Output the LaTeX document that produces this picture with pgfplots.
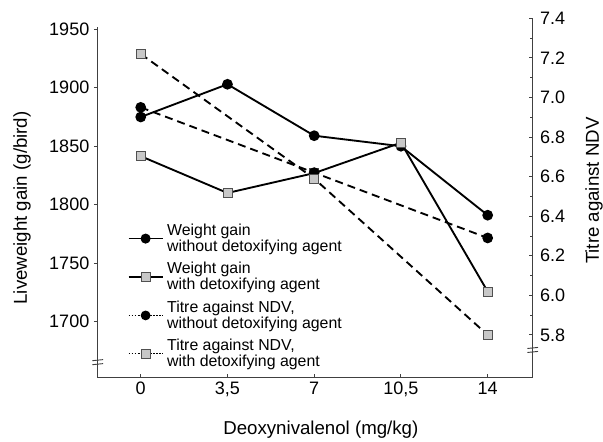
\documentclass[border=0pt]{standalone}
\usepackage{fontspec}
\setmainfont{Liberation Sans}
\usepackage{pgfplots}
\pgfplotsset{compat=1.18}
\definecolor{axgray}{HTML}{404040}
\definecolor{sqfill}{HTML}{C8C8C8}
\definecolor{sqedge}{HTML}{505050}
\begin{document}
\begin{tikzpicture}
\useasboundingbox (-73.3pt,-47.5pt) rectangle (379pt,283.3pt);
\pgfplotsset{
  common/.style={scale only axis, width=326.25pt, height=269.8pt, xmin=-1.735, xmax=15.816, clip=false,
    axis line style={draw=axgray, line width=0.7pt, -},
    tick style={draw=axgray, line width=0.7pt},
    major tick length=2.8pt, minor tick length=2.2pt,
    ticklabel style={font=\fontsize{13.5}{16}\selectfont},
    label style={font=\fontsize{14}{16}\selectfont},
    /pgf/number format/assume math mode=true,
    /pgf/number format/1000 sep={}},
  wline/.style={black, line width=1.4pt, solid},
  tline/.style={black, line width=1.4pt, dash pattern=on 6pt off 3.75pt},
  circ/.style={mark=*, mark size=3.3pt, mark options={solid, fill=black, draw=black}},
  sq/.style={mark=square*, mark size=3.4pt, mark options={solid, fill=sqfill, draw=sqedge, line width=0.6pt}},
}
\begin{axis}[common, ymin=1652, ymax=1959.7,
  axis y line*=left, axis x line*=bottom,
  y axis line style={draw=none},
  xtick align=inside, ytick align=outside,
  xtick={0,3.5,7,10.5,14}, xticklabels={0,{3,5},7,{10,5},14},
  ytick={1700,1750,1800,1850,1900,1950},
  xlabel={Deoxynivalenol (mg/kg)}, ylabel={Liveweight gain (g/bird)},
  xlabel style={at={(axis description cs:0.513,-0.145)}, anchor=center},
  ylabel style={at={(axis description cs:-0.174,0.472)}, anchor=center},
  legend cell align=left,
  legend style={at={(axis description cs:0.069,0.436)}, anchor=north west, draw=none, fill=none,
    font=\fontsize{11.9}{10.8}\selectfont, cells={align=left}, row sep=2.6pt, inner sep=0pt,
    nodes={inner xsep=3pt}},
  legend image code/.code={\draw[mark repeat=2,mark phase=2,#1] plot coordinates {(0pt,0pt) (12.75pt,0pt) (25.5pt,0pt)};},
]
\addlegendimage{black, line width=0.9pt, solid, circ}
\addlegendentry{Weight gain\\without detoxifying agent}
\addlegendimage{black, line width=0.9pt, solid, sq}
\addlegendentry{Weight gain\\with detoxifying agent}
\addlegendimage{black, line width=0.7pt, dash pattern=on 1.3pt off 1pt, circ}
\addlegendentry{Titre against NDV,\\without detoxifying agent}
\addlegendimage{black, line width=0.7pt, dash pattern=on 1.3pt off 1pt, sq}
\addlegendentry{Titre against NDV,\\with detoxifying agent}
\addplot[wline, circ, forget plot] coordinates {(0,1875) (3.5,1903) (7,1859) (10.5,1850) (14,1791)};
\addplot[wline, sq, forget plot] coordinates {(0,1841.5) (3.5,1810) (7,1827) (10.5,1853) (14,1725.7)};
\draw[axgray, line width=0.7pt] (rel axis cs:0,0) -- (axis cs:-1.735,1952);
\draw[axgray, line width=0.7pt] ([xshift=-4pt, yshift=-1.5pt]rel axis cs:0,0.0417) -- ++(8pt,0.8pt);
\draw[axgray, line width=0.7pt] ([xshift=-4pt, yshift=1.5pt]rel axis cs:0,0.0417) -- ++(8pt,0.8pt);
\end{axis}
\begin{axis}[common, ymin=5.584, ymax=7.4015,
  axis y line*=right, axis x line=none,
  tick align=inside,
  ytick={5.8,6,6.2,6.4,6.6,6.8,7,7.2,7.4}, minor y tick num=1,
  yticklabel style={xshift=2pt, /pgf/number format/fixed, /pgf/number format/fixed zerofill, /pgf/number format/precision=1},
  ylabel={Titre against NDV},
  ylabel style={at={(axis description cs:1.141,0.52)}, anchor=center},
]
\addplot[tline, circ] coordinates {(0,6.95) (7,6.62) (14,6.29)};
\addplot[tline, sq] coordinates {(0,7.22) (7,6.59) (14,5.80)};
\draw[axgray, line width=0.7pt] ([xshift=-4pt, yshift=-1.5pt]rel axis cs:1,0.0756) -- ++(8pt,0.8pt);
\draw[axgray, line width=0.7pt] ([xshift=-4pt, yshift=1.5pt]rel axis cs:1,0.0756) -- ++(8pt,0.8pt);
\end{axis}
\end{tikzpicture}
\end{document}
